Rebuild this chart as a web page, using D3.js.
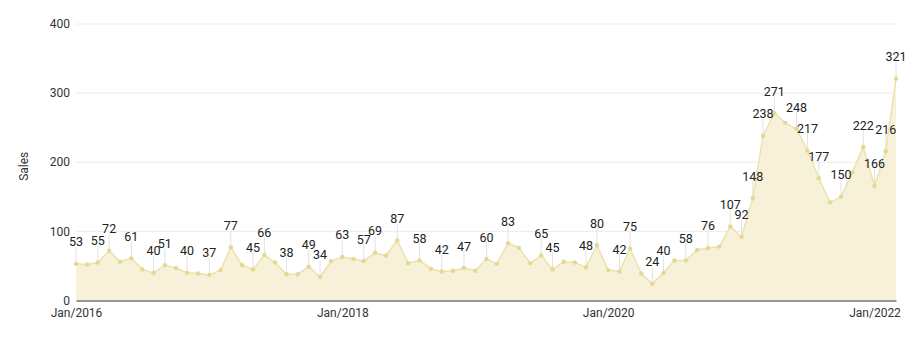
<!DOCTYPE html>
<html>
<head>
<meta charset="utf-8">
<script src="https://cdn.jsdelivr.net/npm/d3@7/dist/d3.min.js"></script>
<style>
  html, body { margin: 0; padding: 0; background: #fff; }
  svg { display: block; font-family: Roboto, "Noto Sans", sans-serif; }
</style>
</head>
<body>
<svg id="chart" width="914" height="338"></svg>
<script>
// Monthly sales, Jan 2016 – Mar 2022
const startMonth = [2016, 0];
const sales = [
  53, 52, 55, 72, 56, 61, 45, 40, 51, 47, 40, 39,
  37, 44, 77, 51, 45, 66, 55, 38, 38, 49, 34, 57,
  63, 60, 57, 69, 65, 87, 54, 58, 46, 42, 43, 47,
  43, 60, 53, 83, 76, 54, 65, 45, 56, 55, 48, 80,
  44, 42, 75, 39, 24, 40, 58, 58, 73, 76, 78, 107,
  92, 148, 238, 271, 257, 248, 217, 177, 142, 150, 185, 222,
  166, 216, 321
];
// Months whose value is printed above the point
const labelledIdx = [
  0, 2, 3, 5, 7, 8, 10, 12, 14, 16, 17, 19, 21, 22, 24, 26, 27, 29, 31, 33,
  35, 37, 39, 42, 43, 46, 47, 49, 50, 52, 53, 55, 57, 59, 60, 61, 62, 63, 65,
  66, 67, 69, 71, 72, 73, 74
];
const yTicks = [0, 100, 200, 300, 400];
const xTickLabels = ["Jan/2016", "Jan/2018", "Jan/2020", "Jan/2022"];

const parseTick = d3.timeParse("%b/%Y");
const fmtTick = d3.timeFormat("%b/%Y");

const data = sales.map((v, i) => ({
  date: new Date(startMonth[0], startMonth[1] + i, 1),
  value: v,
  labelled: labelledIdx.includes(i)
}));

const svg = d3.select("#chart");
const margin = { left: 76, right: 18, top: 24, bottom: 37.5 };
const W = 914, H = 338;

const x = d3.scaleTime()
  .domain(d3.extent(data, d => d.date))
  .range([margin.left, W - margin.right]);
const y = d3.scaleLinear()
  .domain([0, 400])
  .range([H - margin.bottom, margin.top]);

// horizontal grid
svg.append("g")
  .selectAll("line")
  .data(yTicks.filter(t => t > 0))
  .join("line")
  .attr("x1", margin.left).attr("x2", W - margin.right)
  .attr("y1", d => y(d)).attr("y2", d => y(d))
  .attr("stroke", "#ececec").attr("stroke-width", 1);

// y tick labels
svg.append("g")
  .selectAll("text")
  .data(yTicks)
  .join("text")
  .attr("x", 70)
  .attr("y", d => y(d))
  .attr("dy", "0.35em")
  .attr("text-anchor", "end")
  .attr("font-size", 12)
  .attr("fill", "#333")
  .text(d => d);

// y axis title
svg.append("text")
  .attr("transform", `translate(28,${(margin.top + H - margin.bottom) / 2 + 4}) rotate(-90)`)
  .attr("text-anchor", "middle")
  .attr("font-size", 12)
  .attr("fill", "#333")
  .text("Sales");

// area and line
const area = d3.area()
  .x(d => x(d.date)).y0(y(0)).y1(d => y(d.value));
const line = d3.line()
  .x(d => x(d.date)).y(d => y(d.value));

svg.append("path")
  .datum(data)
  .attr("d", area)
  .attr("fill", "#f8f1d9");

// leader lines for labelled points
const labelled = data.filter(d => d.labelled);
svg.append("g")
  .selectAll("line")
  .data(labelled)
  .join("line")
  .attr("x1", d => x(d.date)).attr("x2", d => x(d.date))
  .attr("y1", d => y(d.value) - 17).attr("y2", d => y(d.value))
  .attr("stroke", "#e2e2e2").attr("stroke-width", 1);

svg.append("path")
  .datum(data)
  .attr("d", line)
  .attr("fill", "none")
  .attr("stroke", "#ebe2ae")
  .attr("stroke-width", 1.5);

svg.append("g")
  .selectAll("circle")
  .data(data)
  .join("circle")
  .attr("cx", d => x(d.date)).attr("cy", d => y(d.value))
  .attr("r", 2.2)
  .attr("fill", "#e4d990");

// bottom axis
const xAxis = d3.axisBottom(x)
  .tickValues(xTickLabels.map(parseTick))
  .tickFormat(fmtTick)
  .tickSize(0)
  .tickPadding(8);
const gx = svg.append("g")
  .attr("transform", `translate(0,${y(0)})`)
  .call(xAxis);
gx.select(".domain").attr("stroke", "#333").attr("stroke-width", 1);
gx.selectAll("text").attr("font-size", 12).attr("fill", "#333")
  .attr("font-family", "Roboto, 'Noto Sans', sans-serif");

// value labels
svg.append("g")
  .selectAll("text")
  .data(labelled)
  .join("text")
  .attr("x", d => x(d.date))
  .attr("y", d => y(d.value) - 17.5)
  .attr("text-anchor", "middle")
  .attr("font-size", 12.5)
  .attr("fill", "#222")
  .text(d => d.value);
</script>
</body>
</html>
